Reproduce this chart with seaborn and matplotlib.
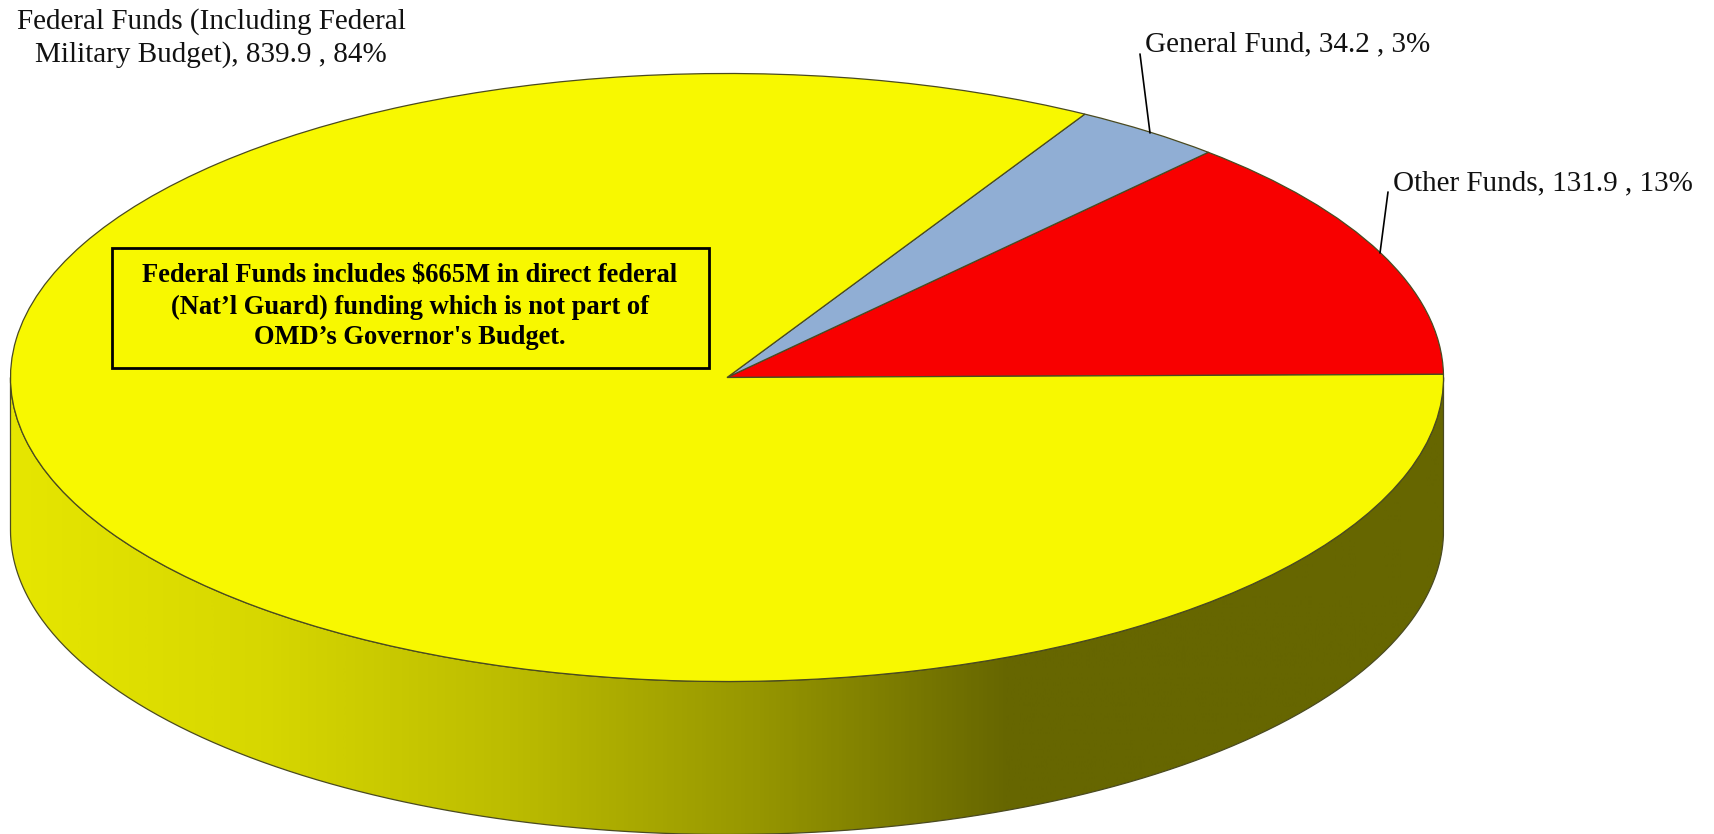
import numpy as np
import matplotlib
matplotlib.use("Agg")
import matplotlib.pyplot as plt
from matplotlib.patches import PathPatch
from matplotlib.path import Path
import seaborn as sns

# --- data ---
categories = ["Other Funds", "General Fund", "Federal Funds (Including Federal\nMilitary Budget)"]
values = [131.9, 34.2, 839.9]
percents = [13, 3, 84]
slice_colors = ["#F80000", "#90AED4", "#F8F800"]
wall_shades = ["#E6E600", "#D7D700", "#BCBC00", "#969600", "#666600"]
note_lines = ["Federal Funds includes $665M in direct federal",
              "(Nat\u2019l Guard) funding which is not part of",
              "OMD\u2019s Governor's Budget."]

W, H = 1715, 834
CX, CY, RX, RY, DEPTH = 727.0, 377.5, 716.5, 304.0, 153.0
EDGE = "#4A4A20"
FONT = "Liberation Serif"

sns.set_theme(style="white")
plt.rcParams["font.family"] = [FONT, "DejaVu Sans"]

fig = plt.figure(figsize=(W / 100, H / 100), dpi=100, facecolor="white")
ax = fig.add_axes([0, 0, 1, 1])


def fx(px):
    return px / W


def fy(py):
    return 1 - py / H


wedges, _ = ax.pie(values, colors=slice_colors, startangle=0.6, counterclock=True, radius=1,
                   wedgeprops=dict(edgecolor=EDGE, linewidth=0.9, zorder=5))
for w in wedges:
    w.set_zorder(5)

xlim = ((0 - CX) / RX, (W - CX) / RX)
ylim = ((CY - H) / RY, CY / RY)
depth = DEPTH / RY

# side wall of the disc
theta = np.linspace(np.pi, 2 * np.pi, 400)
xs = np.cos(theta)
ys = np.sin(theta)
verts = np.vstack([np.c_[xs, ys], np.c_[xs[::-1], ys[::-1] - depth], [[xs[0], ys[0]]]])
wall = Path(verts, closed=False)
cmap = sns.blend_palette(wall_shades, as_cmap=True)
grad = np.linspace(-1, 1, 1400)[None, :]
img = ax.imshow(grad, extent=(-1, 1, ylim[0], 0.01), aspect="auto", cmap=cmap,
                vmin=-1, vmax=(1010 - CX) / RX, zorder=2)
clip = PathPatch(wall, facecolor="none", edgecolor=EDGE, linewidth=0.9, zorder=3)
ax.add_patch(clip)
img.set_clip_path(clip)

ax.set_aspect("auto")
ax.set_xlim(*xlim)
ax.set_ylim(*ylim)
ax.set_axis_off()

# labels
label_size = 21
lab = [f"{c}, {v} , {p}%" for c, v, p in zip(categories, values, percents)]
fig.text(fx(1393), fy(183), lab[0], ha="left", va="center", fontsize=label_size, color="#111111")
fig.text(fx(1145), fy(44), lab[1], ha="left", va="center", fontsize=label_size, color="#111111")
fig.text(fx(211), fy(38), lab[2], ha="center", va="center", fontsize=label_size, color="#111111",
         linespacing=1.3, multialignment="center")

# leader lines
for (x0, y0), (x1, y1) in [((1140, 54), (1150, 133)), ((1388, 192), (1380, 253))]:
    ax.annotate("", xy=(fx(x1), fy(y1)), xytext=(fx(x0), fy(y0)),
                xycoords="figure fraction", textcoords="figure fraction",
                arrowprops=dict(arrowstyle="-", color="black", lw=1.2, shrinkA=0, shrinkB=0), zorder=6)

# note box
box = plt.Rectangle((fx(112.5), fy(368)), fx(709 - 112.5), (368 - 248) / H, transform=fig.transFigure,
                    facecolor="#F8F800", edgecolor="black", linewidth=2.0, zorder=7)
fig.add_artist(box)
for line, py in zip(note_lines, [276, 307, 338]):
    fig.text(fx(410), fy(py), line, ha="center", va="center", fontsize=19.1, fontweight="bold",
             color="black", zorder=8)

fig.savefig("out.png", dpi=100, facecolor="white")
